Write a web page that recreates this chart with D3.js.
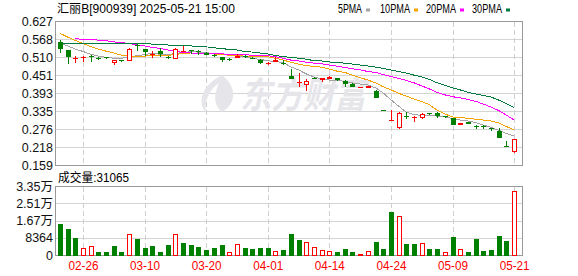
<!DOCTYPE html>
<html lang="zh">
<head>
<meta charset="UTF-8">
<title>汇丽B[900939] 日K</title>
<style>
  body { margin: 0; background: #fff; }
  svg text { font-family: "Liberation Sans", "Noto Sans CJK SC", sans-serif; }
</style>
</head>
<body>
<div id="chart"></div>
<script src="https://d3js.org/d3.v7.min.js"></script>
<script>
// trading days shown (MM-DD)
var dates = ["02-21","02-24","02-25","02-26","02-27","02-28",
  "03-03","03-04","03-05","03-06","03-07","03-10","03-11","03-12","03-13","03-14",
  "03-17","03-18","03-19","03-20","03-21","03-24","03-25","03-26","03-27","03-28","03-31",
  "04-01","04-02","04-03","04-07","04-08","04-09","04-10","04-11","04-14","04-15","04-16",
  "04-17","04-18","04-21","04-22","04-23","04-24","04-25","04-28","04-29","04-30",
  "05-06","05-07","05-08","05-09","05-12","05-13","05-14","05-15","05-16","05-19","05-20","05-21"];

var open = [0.558,0.533,0.502,0.508,0.513,0.506,0.509,0.489,0.499,0.498,
  0.549,0.536,0.518,0.531,0.511,0.505,0.528,0.532,0.528,0.523,
  0.516,0.510,0.504,0.508,0.513,0.508,0.500,0.489,0.493,0.491,
  0.448,0.427,0.418,0.443,0.435,0.438,0.442,0.433,0.423,0.411,
  0.408,0.401,0.338,0.304,0.278,0.319,0.313,0.311,0.328,0.329,
  0.317,0.313,0.288,0.300,0.285,0.285,0.278,0.271,0.220,0.200];
var high = [0.565,0.533,0.514,0.513,0.517,0.510,0.511,0.500,0.501,0.540,
  0.551,0.537,0.528,0.538,0.512,0.540,0.546,0.532,0.533,0.525,
  0.521,0.511,0.508,0.521,0.518,0.510,0.502,0.495,0.510,0.501,
  0.470,0.457,0.437,0.445,0.442,0.447,0.443,0.434,0.424,0.413,
  0.416,0.403,0.339,0.339,0.331,0.330,0.318,0.328,0.328,0.330,
  0.318,0.313,0.295,0.300,0.290,0.289,0.278,0.278,0.238,0.243];
var low = [0.524,0.487,0.492,0.493,0.493,0.500,0.505,0.485,0.495,0.497,
  0.528,0.514,0.508,0.510,0.503,0.504,0.527,0.521,0.518,0.516,
  0.510,0.493,0.498,0.507,0.506,0.503,0.487,0.485,0.493,0.485,
  0.439,0.413,0.401,0.440,0.430,0.438,0.432,0.414,0.414,0.411,
  0.408,0.376,0.337,0.304,0.277,0.307,0.300,0.307,0.320,0.312,
  0.312,0.289,0.288,0.293,0.277,0.276,0.271,0.247,0.218,0.199];
var close = [0.536,0.511,0.508,0.509,0.510,0.504,0.507,0.499,0.497,0.536,
  0.546,0.525,0.520,0.519,0.508,0.536,0.530,0.530,0.527,0.518,
  0.514,0.500,0.502,0.514,0.511,0.505,0.491,0.491,0.501,0.489,
  0.439,0.428,0.433,0.442,0.441,0.445,0.435,0.421,0.414,0.412,
  0.416,0.376,0.337,0.306,0.329,0.317,0.314,0.325,0.326,0.318,
  0.314,0.289,0.295,0.293,0.283,0.283,0.277,0.248,0.218,0.242];

var ma5 = [0.555,0.546,0.536,0.528,0.519,0.513,0.509,0.506,0.506,0.510,
  0.514,0.518,0.522,0.519,0.518,0.521,0.525,0.527,0.526,0.524,
  0.521,0.518,0.516,0.514,0.511,0.506,0.502,0.498,0.495,0.492,
  0.478,0.468,0.455,0.445,0.439,0.435,0.434,0.431,0.426,0.422,
  0.419,0.410,0.393,0.371,0.350,0.331,0.323,0.320,0.320,0.318,
  0.315,0.310,0.305,0.302,0.297,0.289,0.281,0.272,0.261,0.253];
var ma10 = [0.587,0.575,0.564,0.554,0.544,0.536,0.529,0.523,0.516,0.512,
  0.512,0.513,0.514,0.514,0.515,0.518,0.522,0.523,0.523,0.523,
  0.520,0.518,0.516,0.514,0.513,0.512,0.511,0.511,0.506,0.500,
  0.493,0.487,0.482,0.479,0.477,0.471,0.464,0.460,0.451,0.443,
  0.435,0.426,0.413,0.403,0.392,0.383,0.373,0.365,0.355,0.337,
  0.325,0.315,0.313,0.311,0.308,0.305,0.302,0.296,0.284,0.273];
var ma20 = [null,null,0.569,0.568,0.566,0.565,0.563,0.559,0.557,0.554,
  0.549,0.546,0.541,0.538,0.533,0.528,0.525,0.523,0.523,0.522,
  0.521,0.520,0.519,0.519,0.517,0.516,0.515,0.514,0.511,0.506,
  0.500,0.497,0.493,0.490,0.488,0.484,0.480,0.476,0.472,0.468,
  0.463,0.460,0.453,0.447,0.440,0.434,0.426,0.416,0.406,0.395,
  0.387,0.381,0.377,0.372,0.366,0.357,0.347,0.336,0.321,0.305];
var ma30 = [0.555,0.555,0.555,0.555,0.555,0.555,0.555,0.555,0.555,0.555,
  0.555,0.553,0.552,0.550,0.549,0.548,0.547,0.546,0.544,0.543,
  0.540,0.537,0.535,0.533,0.528,0.526,0.523,0.520,0.515,0.511,
  0.509,0.506,0.503,0.498,0.497,0.494,0.492,0.490,0.487,0.484,
  0.481,0.477,0.473,0.468,0.463,0.458,0.451,0.445,0.437,0.426,
  0.418,0.410,0.403,0.395,0.390,0.385,0.380,0.370,0.358,0.346];

var volume = [15050,12620,8250,3400,4220,1460,1460,4370,1460,10040,
  7770,3400,4220,1460,4850,10040,5830,4850,3880,2430,
  3400,4700,1310,5190,3400,2910,3400,3400,1800,2430,
  10100,7280,6310,3740,2280,1800,1460,2910,1460,490,
  1940,6310,2910,20880,18930,5340,5340,5680,2910,2910,
  1460,8740,2910,1460,7770,1940,2430,9220,6960,31065];
// 1 = red (hollow) volume bar, 0 = green
var volUp = [0,0,0,1,1,0,0,0,0,1, 0,0,0,0,0,1,0,0,0,0,
  0,0,1,1,0,0,0,0,1,0, 0,0,1,1,1,1,0,0,0,1,
  1,0,0,0,1,0,0,1,0,0, 1,0,1,0,0,0,0,0,0,1];

var priceTicks = [0.159,0.2175,0.276,0.3345,0.393,0.4515,0.510,0.5685,0.627];
var priceLabels = ["0.159","0.218","0.276","0.335","0.393","0.451","0.510","0.568","0.627"];
var volTicks = [0,8364,16728,25092,33456];
var volLabels = ["0","8364","1.67万","2.51万","3.35万"];
var dateTicks = ["02-26","03-10","03-20","04-01","04-14","04-24","05-09","05-21"];

var maNames = ["5PMA","10PMA","20PMA","30PMA"];
var maColors = ["#a3a3a3","#f5a300","#ff00ff","#007a3d"];
var upColor = "#ff0000", downColor = "#008000";

var W = 578, H = 276;
var L = 55.5, R = 522.5, T = 21.5, B = 165.5, VT = 186.5, VB = 255.5;

var svg = d3.select("#chart").append("svg")
  .attr("width", W).attr("height", H);

var x = d3.scalePoint().domain(dates).range([56, 518]).padding(0.5);
var y = d3.scaleLinear().domain([0.159, 0.627]).range([165, 21]);
var yv = d3.scaleLinear().domain([0, 33456]).range([255, 186]);
var cx = function (i) { return Math.round(x(dates[i])); };

// grids
var grid = svg.append("g").attr("shape-rendering", "crispEdges");
grid.selectAll(".hp").data(priceTicks.slice(1, -1)).enter().append("line")
  .attr("x1", L).attr("x2", R)
  .attr("y1", function (d) { return Math.round(y(d)) + 0.5; })
  .attr("y2", function (d) { return Math.round(y(d)) + 0.5; })
  .attr("stroke", "#d4d4d4");
grid.selectAll(".hv").data(volTicks.slice(1, -1)).enter().append("line")
  .attr("x1", L).attr("x2", R)
  .attr("y1", function (d) { return Math.round(yv(d)) + 0.5; })
  .attr("y2", function (d) { return Math.round(yv(d)) + 0.5; })
  .attr("stroke", "#d4d4d4");
dateTicks.forEach(function (d) {
  var xx = Math.round(x(d)) + 0.5;
  [[T, B], [VT, VB]].forEach(function (p) {
    grid.append("line").attr("x1", xx).attr("x2", xx)
      .attr("y1", p[0]).attr("y2", p[1])
      .attr("stroke", "#cfcfcf").attr("stroke-dasharray", "5,3");
  });
});

// watermark
var wm = svg.append("g").attr("fill", "#e6e6ea");
wm.append("path")
  .attr("d", "M222,75 C204,84 196,100 206,113 C204,101 209,90 219,83 C213,96 214,106 222,112 C236,104 238,88 222,75 Z");
wm.append("text").attr("x", 240).attr("y", 108)
  .attr("font-size", 36).attr("font-weight", "bold").attr("font-style", "italic")
  .attr("font-family", "Noto Sans CJK SC")
  .attr("textLength", 126).attr("lengthAdjust", "spacingAndGlyphs")
  .text("东方财富");

// frames
svg.append("rect").attr("x", L).attr("y", T).attr("width", R - L).attr("height", B - T)
  .attr("fill", "none").attr("stroke", "#999").attr("shape-rendering", "crispEdges");
svg.append("rect").attr("x", L).attr("y", VT).attr("width", R - L).attr("height", VB - VT)
  .attr("fill", "none").attr("stroke", "#999").attr("shape-rendering", "crispEdges");

// MA lines
[ma5, ma10, ma20, ma30].forEach(function (arr, k) {
  var line = d3.line()
    .defined(function (d) { return d != null; })
    .x(function (d, i) { return x(dates[i]); })
    .y(function (d) { return y(d); });
  svg.append("path").datum(arr).attr("d", line)
    .attr("fill", "none").attr("stroke", maColors[k]).attr("stroke-width", 1)
    .attr("shape-rendering", "crispEdges");
});

// candles
var cg = svg.append("g").attr("shape-rendering", "crispEdges");
dates.forEach(function (d, i) {
  var o = open[i], c = close[i];
  var up = c > o;
  var col = up ? upColor : downColor;
  var xc = cx(i);
  var top = Math.round(y(Math.max(o, c)));
  var bot = Math.round(y(Math.min(o, c)));
  var hy = Math.round(y(high[i])), ly = Math.round(y(low[i]));
  if (bot - top < 1) bot = top + 1;
  if (up && bot - top > 2) {
    cg.append("line").attr("x1", xc + 0.5).attr("x2", xc + 0.5)
      .attr("y1", hy).attr("y2", top).attr("stroke", col);
    cg.append("line").attr("x1", xc + 0.5).attr("x2", xc + 0.5)
      .attr("y1", bot).attr("y2", ly).attr("stroke", col);
    cg.append("rect").attr("x", xc - 1.5).attr("y", top + 0.5)
      .attr("width", 4).attr("height", bot - top - 1)
      .attr("fill", "#fff").attr("stroke", col);
  } else {
    cg.append("line").attr("x1", xc + 0.5).attr("x2", xc + 0.5)
      .attr("y1", hy).attr("y2", Math.max(ly, hy + 1)).attr("stroke", col);
    cg.append("rect").attr("x", xc - 2).attr("y", top)
      .attr("width", 5).attr("height", bot - top).attr("fill", col);
  }
});

// volume bars
var vg = svg.append("g").attr("shape-rendering", "crispEdges");
volume.forEach(function (v, i) {
  var xc = cx(i), top = Math.round(yv(v));
  if (volUp[i]) {
    vg.append("rect").attr("x", xc - 1.5).attr("y", top + 0.5)
      .attr("width", 4).attr("height", Math.max(1, 255 - top - 0.5))
      .attr("fill", "#fff").attr("stroke", upColor);
  } else {
    vg.append("rect").attr("x", xc - 2).attr("y", top)
      .attr("width", 5).attr("height", 256 - top).attr("fill", downColor);
  }
});

// axis labels
svg.append("g").selectAll("text").data(priceTicks).enter().append("text")
  .attr("x", 53).attr("y", function (d) { return y(d) + 4.5; })
  .attr("text-anchor", "end").attr("font-size", 12.5).attr("fill", "#111")
  .text(function (d, i) { return priceLabels[i]; });
svg.append("g").selectAll("text").data(volTicks).enter().append("text")
  .attr("x", 53).attr("y", function (d) { return yv(d) + 4.5; })
  .attr("text-anchor", "end").attr("font-size", 12.5).attr("fill", "#111")
  .text(function (d, i) { return volLabels[i]; });
svg.append("g").selectAll("text").data(dateTicks).enter().append("text")
  .attr("x", function (d) { return x(d) + 0.5; }).attr("y", 270)
  .attr("text-anchor", "middle").attr("font-size", 12).attr("fill", upColor)
  .attr("textLength", 30).attr("lengthAdjust", "spacingAndGlyphs")
  .text(function (d) { return d; });

// title and legend
svg.append("text").attr("x", 57).attr("y", 13).attr("font-size", 12).attr("fill", "#000")
  .attr("textLength", 178).attr("lengthAdjust", "spacingAndGlyphs")
  .text("汇丽B[900939] 2025-05-21 15:00");
svg.append("text").attr("x", 58).attr("y", 182).attr("font-size", 12).attr("fill", "#000")
  .attr("textLength", 71).attr("lengthAdjust", "spacingAndGlyphs")
  .text("成交量:" + volume[volume.length - 1]);

var legX = [338, 380, 426, 472];
maNames.forEach(function (n, k) {
  svg.append("text").attr("x", legX[k]).attr("y", 13).attr("font-size", 12).attr("fill", "#000")
    .attr("textLength", n.length * 6).attr("lengthAdjust", "spacingAndGlyphs").text(n);
  svg.append("rect").attr("x", legX[k] + n.length * 6 + 4).attr("y", 8.5)
    .attr("width", 4).attr("height", 3).attr("fill", maColors[k]);
});
</script>
</body>
</html>
